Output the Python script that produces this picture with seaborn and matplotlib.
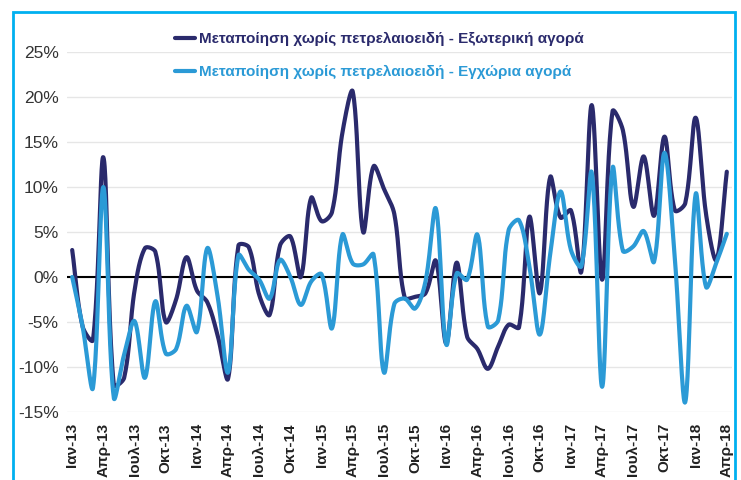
import numpy as np
import pandas as pd
import matplotlib
matplotlib.use("Agg")
import matplotlib.pyplot as plt
import seaborn as sns
from matplotlib.patches import Rectangle

# monthly values, Jan-13 .. Apr-18 (%)
months_gr = ["Ιαν", "Φεβ", "Μαρ", "Απρ", "Μαϊ", "Ιουν", "Ιουλ", "Αυγ", "Σεπ", "Οκτ", "Νοε", "Δεκ"]
years = [13, 14, 15, 16, 17, 18]
labels = [f"{m}-{y}" for y in years for m in months_gr][:64]

external = [3.0, -5.5, -7.0, 13.3, -12.0, -11.2, -1.5, 3.2, 2.8, -5.0, -2.5, 2.2,
            -1.5, -2.8, -6.5, -11.3, 3.5, 3.3, -2.0, -4.2, 3.5, 4.5, 0.0, 8.8,
            6.2, 7.2, 16.0, 20.6, 5.0, 12.3, 9.8, 7.0, -2.3, -2.2, -1.8, 1.8,
            -7.4, 1.6, -6.6, -8.0, -10.2, -7.7, -5.3, -5.6, 6.7, -1.8, 11.1, 6.6,
            7.4, 0.6, 19.1, -0.3, 18.4, 16.3, 7.8, 13.4, 6.8, 15.6, 7.4, 8.2,
            17.7, 7.0, 1.9, 11.7]

domestic = [0.0, -5.5, -12.3, 10.0, -13.4, -8.6, -4.9, -11.2, -2.7, -8.5, -8.0, -3.2,
            -6.1, 3.2, -2.2, -10.6, 2.4, 0.8, -0.3, -2.4, 1.9, 0.0, -3.1, -0.5,
            0.3, -5.7, 4.7, 1.5, 1.4, 2.5, -10.6, -3.0, -2.4, -3.5, -0.5, 7.6,
            -7.5, 0.4, -0.3, 4.7, -5.5, -4.8, 5.2, 6.3, 1.2, -6.4, 2.5, 9.5,
            3.0, 1.2, 11.6, -12.2, 12.1, 2.9, 3.4, 5.1, 1.7, 13.8, 2.0, -13.9,
            9.2, -1.1, 1.6, 4.8]

name_ext = "Μεταποίηση χωρίς πετρελαιοειδή - Εξωτερική αγορά"
name_dom = "Μεταποίηση χωρίς πετρελαιοειδή - Εγχώρια αγορά"
c_ext = "#2a2a6c"
c_dom = "#2b9ad6"


def smooth(vals, n=24, sx=10.33, sy=9.0):
    # Excel-like smoothed line: cubic Bezier per segment, control arms
    # scaled by neighbouring segment lengths (measured in screen units)
    y = np.asarray(vals, dtype=float)
    x = np.arange(len(y), dtype=float)
    P = np.column_stack([x * sx, y * sy])
    m = len(P)
    c_in = np.zeros_like(P)
    c_out = np.zeros_like(P)
    for i in range(m):
        a = P[max(i - 1, 0)]
        b = P[min(i + 1, m - 1)]
        T = b - a
        d_prev = np.linalg.norm(P[i] - a)
        d_next = np.linalg.norm(b - P[i])
        tot = d_prev + d_next
        if tot == 0:
            continue
        c_in[i] = P[i] - T * d_prev / tot / 3
        c_out[i] = P[i] + T * d_next / tot / 3
    t = np.linspace(0, 1, n, endpoint=False)[:, None]
    pts = []
    for i in range(m - 1):
        p0, p1, p2, p3 = P[i], c_out[i], c_in[i + 1], P[i + 1]
        seg = ((1 - t) ** 3) * p0 + 3 * ((1 - t) ** 2) * t * p1 + 3 * (1 - t) * t ** 2 * p2 + t ** 3 * p3
        pts.append(seg)
    pts.append(P[-1:])
    pts = np.vstack(pts)
    return pts[:, 0] / sx, pts[:, 1] / sy


frames = []
for name, vals in [(name_ext, external), (name_dom, domestic)]:
    cx, cy = smooth(vals)
    frames.append(pd.DataFrame({"x": cx, "y": cy, "series": name}))
df = pd.concat(frames, ignore_index=True)

sns.set_theme(style="white")
plt.rcParams["font.family"] = ["Liberation Sans Narrow", "Liberation Sans", "DejaVu Sans"]

fig = plt.figure(figsize=(7.41, 4.8), dpi=100)
ax = fig.add_axes([67 / 741, 1 - 412 / 480, (732 - 67) / 741, (412 - 52) / 480])

ax.set_ylim(-15, 25)
ax.set_yticks(range(-15, 26, 5))
ax.yaxis.grid(True, color="#e6e6e6", lw=1)
ax.set_axisbelow(True)
ax.axhline(0, color="black", lw=1.5, zorder=2)

sns.lineplot(data=df, x="x", y="y", hue="series", palette=[c_ext, c_dom],
             lw=3, sort=False, estimator=None, ax=ax, zorder=3)

ax.set_xlim(-0.5, 63.5)
ticks = list(range(0, 64, 3))
ax.set_xticks(ticks)
ax.set_xticklabels([labels[i] for i in ticks], rotation=90, fontsize=11,
                   fontweight="bold", family=["Liberation Sans", "DejaVu Sans"], color="#222222")
ax.set_yticklabels([f"{v}%" for v in range(-15, 26, 5)], fontsize=12.5,
                   family=["Liberation Sans", "DejaVu Sans"], color="#333333")
ax.tick_params(axis="x", pad=8, length=0)
ax.tick_params(axis="y", pad=6, length=0)
ax.set_xlabel("")
ax.set_ylabel("")
for s in ax.spines.values():
    s.set_visible(False)

leg = ax.legend(loc="upper left", bbox_to_anchor=(175 / 741, 1 - 32 / 480),
                bbox_transform=fig.transFigure, frameon=False, fontsize=11,
                handlelength=1.3, handletextpad=0.3, labelspacing=1.25,
                borderaxespad=0, borderpad=0)
for line in leg.get_lines():
    line.set_linewidth(3)
for txt, col in zip(leg.get_texts(), [c_ext, c_dom]):
    txt.set_color(col)
    txt.set_fontweight("bold")

fig.patches.append(Rectangle((13 / 741, -0.05), (735 - 13) / 741, 1 - 12 / 480 + 0.05,
                             transform=fig.transFigure, fill=False,
                             edgecolor="#00b0f0", lw=2))

fig.savefig("out.png", dpi=100)
